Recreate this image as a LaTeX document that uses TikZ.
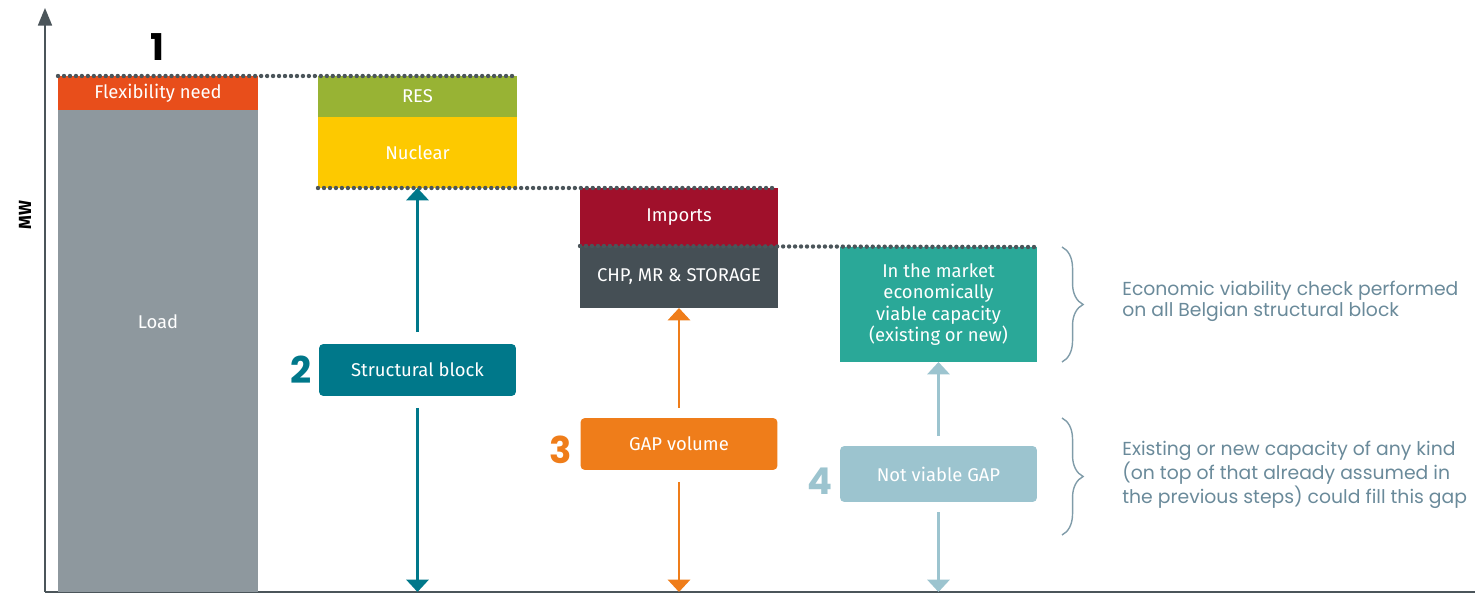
\documentclass[tikz,border=0pt]{standalone}
\usepackage{fontspec}
\setmainfont{Fira Sans}
\newfontfamily\notefont{Poppins}
\usetikzlibrary{arrows.meta, decorations.pathreplacing}

\definecolor{axisgray}{HTML}{4B555A}
\definecolor{loadgray}{HTML}{8E989E}
\definecolor{flexred}{HTML}{E84E1B}
\definecolor{resgreen}{HTML}{98B334}
\definecolor{nucyellow}{HTML}{FDC900}
\definecolor{impred}{HTML}{A0102B}
\definecolor{chpslate}{HTML}{454F55}
\definecolor{mktteal}{HTML}{2AA898}
\definecolor{structteal}{HTML}{00788A}
\definecolor{gaporange}{HTML}{EF7D1A}
\definecolor{nvblue}{HTML}{9CC4CF}
\definecolor{notegray}{HTML}{6A8A9A}

\tikzstyle{blk} = [rectangle, inner sep=0pt, outer sep=0pt, text=white, align=center, font=\fontsize{10.5}{12.3}\selectfont]
\tikzstyle{stepbox} = [blk, rounded corners=2.5pt, minimum width=3.94cm, minimum height=1.04cm]
\tikzstyle{arrow} = [line width=1.7pt, -{Triangle[width=12.5pt,length=7pt]}]
\tikzstyle{dots} = [axisgray, line width=2.5pt, line cap=round, dash pattern=on 0pt off 3.4pt]
\tikzstyle{num} = [font=\notefont\bfseries\fontsize{21}{21}\selectfont]
\tikzstyle{note} = [anchor=west, align=left, text=notegray, inner sep=0pt, font=\notefont\fontsize{10.7}{12}\selectfont]
\tikzstyle{brc} = [draw=notegray!85, line width=0.8pt, decorate, decoration={brace, amplitude=12pt}]

\begin{document}
\begin{tikzpicture}[x=0.02cm, y=-0.02cm]
        \useasboundingbox (0,0) rectangle (1475,594);

        % Axes
        \coordinate (o) at (45,592);
        \coordinate (ytop) at (45,8);
        \coordinate (xend) at (1475,592);
        \draw[axisgray, line width=0.9pt, -{Triangle[width=8pt,length=10pt]}] (o) -- (ytop);
        \draw[axisgray, line width=0.9pt] (o) -- (xend);
        \node[rotate=90, font=\bfseries\fontsize{10}{12}\selectfont] (mw) at (25,215) {MW};

        % Step 1
        \node[num] (n1) at (157,47) {1};
        \node[blk, fill=loadgray, minimum width=4cm, minimum height=9.64cm] (load) at (158,351) {};
        \node[blk] (loadlbl) at (158,322) {Load};
        \node[blk, fill=flexred, minimum width=4cm, minimum height=0.68cm] (flex) at (158,93) {Flexibility need};

        % Step 2
        \node[blk, fill=resgreen, minimum width=3.98cm, minimum height=0.82cm] (res) at (417.5,96.5) {RES};
        \node[blk, fill=nucyellow, minimum width=3.98cm, minimum height=1.42cm] (nuc) at (417.5,152.5) {Nuclear};
        \node[stepbox, fill=structteal] (sb) at (417.5,370) {Structural block};
        \node[num, text=structteal] (n2) at (301,370) {2};

        % Step 3
        \node[blk, fill=impred, minimum width=3.96cm, minimum height=1.16cm] (imp) at (679,217) {Imports};
        \node[blk, fill=chpslate, minimum width=3.96cm, minimum height=1.24cm] (chp) at (679,277) {CHP, MR \& STORAGE};
        \node[stepbox, fill=gaporange] (gap) at (679,444) {GAP volume};
        \node[num, text=gaporange] (n3) at (561,450) {3};

        % Step 4
        \node[blk, fill=mktteal, minimum width=3.94cm, minimum height=2.3cm] (mkt) at (938.5,304.5) {In the market\\economically\\viable capacity\\(existing or new)};
        \node[stepbox, fill=nvblue, minimum height=1.12cm] (nv) at (938.5,474) {Not viable GAP};
        \node[num, text=nvblue] (n4) at (820,481) {4};

        % Levels
        \draw[dots] (flex.north west) -- (res.north east);
        \draw[dots] (nuc.south west) -- (imp.north east);
        \draw[dots] (chp.north west) -- (mkt.north east);

        % Arrows
        \draw[arrow, structteal] ([yshift=6.8pt]sb.north) -- (nuc.south);
        \draw[arrow, structteal] ([yshift=-6.8pt]sb.south) -- (sb.south |- o);
        \draw[arrow, gaporange] ([yshift=5.7pt]gap.north) -- (chp.south);
        \draw[arrow, gaporange] ([yshift=-6.8pt]gap.south) -- (gap.south |- o);
        \draw[arrow, nvblue] ([yshift=5.7pt]nv.north) -- (mkt.south);
        \draw[arrow, nvblue] ([yshift=-5.7pt]nv.south) -- (nv.south |- o);

        % Notes
        \coordinate (b1t) at (1062,247);
        \coordinate (b1b) at (1062,362);
        \coordinate (b2t) at (1062,418);
        \coordinate (b2b) at (1062,535);
        \draw[brc] (b1t) -- (b1b);
        \draw[brc] (b2t) -- (b2b);
        \node[note] (note1) at (1122,301) {Economic viability check performed\\on all Belgian structural block};
        \node[note] (note2) at (1122,475) {Existing or new capacity of any kind\\(on top of that already assumed in\\the previous steps) could fill this gap};
\end{tikzpicture}
\end{document}
